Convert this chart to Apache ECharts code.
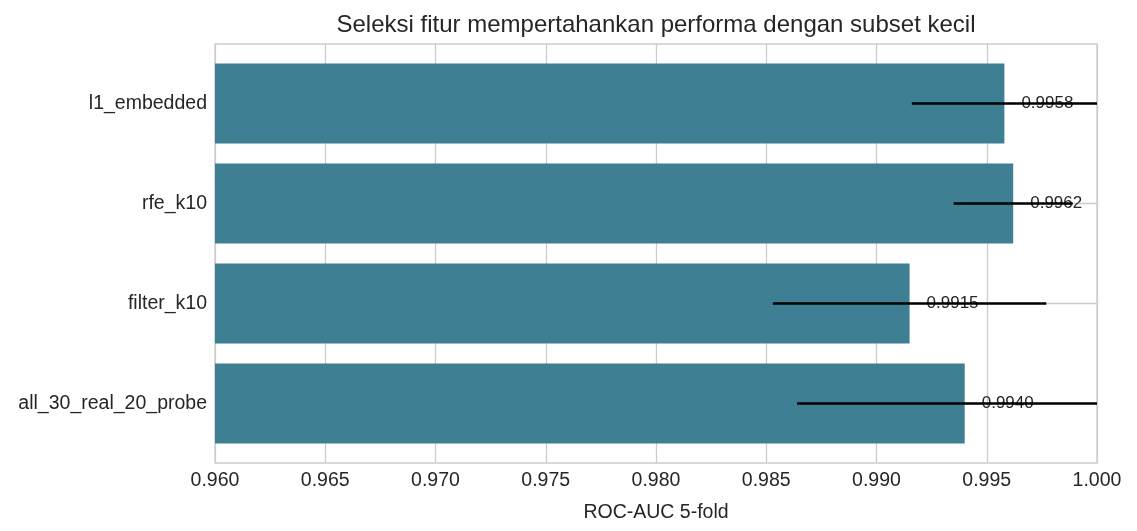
<!DOCTYPE html>
<html>
<head>
<meta charset="utf-8">
<script src="https://cdn.jsdelivr.net/npm/echarts@6/dist/echarts.min.js"></script>
<style>
  html, body { margin: 0; padding: 0; background: #fff; }
  #chart { width: 1137px; height: 531px; }
</style>
</head>
<body>
<div id="chart"></div>
<script>
// data
var models = ['l1_embedded', 'rfe_k10', 'filter_k10', 'all_30_real_20_probe'];
var meanAuc = [0.9958, 0.9962, 0.9915, 0.9940];
var stdAuc = [0.0042, 0.0027, 0.0062, 0.0076];

var textColor = '#262626';
var gridColor = '#cccccc';
var font = 'Liberation Sans, Arial, sans-serif';

var errData = models.map(function (m, i) {
    return [i, meanAuc[i], stdAuc[i]];
});

var chart = echarts.init(document.getElementById('chart'));
var option = {
    backgroundColor: '#fff',
    textStyle: { fontFamily: font },
    title: {
        text: 'Seleksi fitur mempertahankan performa dengan subset kecil',
        left: 651,
        textAlign: 'center',
        top: 8,
        textStyle: { fontSize: 24, fontWeight: 'normal', color: textColor, fontFamily: font }
    },
    grid: [
        // outer frame, x ticks and vertical grid lines
        { left: 215, top: 44, width: 882, height: 419, show: true,
          borderColor: gridColor, borderWidth: 1.3, backgroundColor: '#fff' },
        // bar area, 100px per category
        { left: 215, top: 53.5, width: 882, height: 400 }
    ],
    xAxis: [
        {
            gridIndex: 0, type: 'value', min: 0.96, max: 1.0, interval: 0.005,
            name: 'ROC-AUC 5-fold', nameLocation: 'middle', nameGap: 40,
            nameTextStyle: { fontSize: 19.5, color: textColor, fontFamily: font },
            axisLine: { show: false }, axisTick: { show: false },
            axisLabel: { fontSize: 19.5, color: textColor, margin: 8, fontFamily: font,
                formatter: function (v) { return v.toFixed(3); } },
            splitLine: { show: true, lineStyle: { color: gridColor, width: 1.3 } }
        },
        { gridIndex: 1, type: 'value', min: 0.96, max: 1.0, show: false }
    ],
    yAxis: [
        { gridIndex: 0, type: 'value', min: 0, max: 1, show: false },
        {
            gridIndex: 1, type: 'category', data: models, inverse: true,
            axisLine: { show: false }, axisTick: { show: false },
            axisLabel: { fontSize: 19.5, color: textColor, margin: 8, fontFamily: font },
            // horizontal grid lines through the bar centres
            splitLine: { show: true, alignWithLabel: true, lineStyle: { color: gridColor, width: 1.3 } }
        }
    ],
    series: [
        {
            type: 'bar',
            xAxisIndex: 1, yAxisIndex: 1,
            data: meanAuc,
            barCategoryGap: '20%',
            clip: true,
            itemStyle: { color: '#3e7f93' },
            label: {
                show: true, position: 'right', distance: 17,
                fontSize: 17, color: textColor, fontFamily: font,
                formatter: function (p) { return p.value.toFixed(4); }
            },
            z: 2
        },
        {
            type: 'custom',
            xAxisIndex: 1, yAxisIndex: 1,
            data: errData,
            encode: { x: 1, y: 0 },
            z: 3,
            renderItem: function (params, api) {
                var idx = api.value(0);
                var m = api.value(1);
                var s = api.value(2);
                var p1 = api.coord([m - s, idx]);
                var p2 = api.coord([m + s, idx]);
                var cs = params.coordSys;
                var x1 = Math.max(p1[0], cs.x);
                var x2 = Math.min(p2[0], cs.x + cs.width);
                return {
                    type: 'line',
                    shape: { x1: x1, y1: p1[1], x2: x2, y2: p2[1] },
                    style: { stroke: '#000', lineWidth: 2.4 }
                };
            }
        }
    ]
};
chart.setOption(option);
</script>
</body>
</html>
